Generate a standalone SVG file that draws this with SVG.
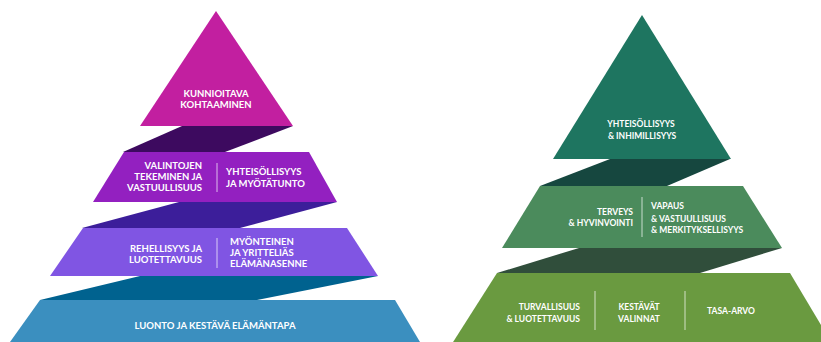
<svg xmlns="http://www.w3.org/2000/svg" width="821" height="342" viewBox="0 0 821 342">
<style>
text{font-family:Lato,"Open Sans","Liberation Sans",sans-serif;font-weight:700;fill:#fff}
.l{font-size:9.5px}
.r{font-size:8.5px}
.m{text-anchor:middle}
.e{text-anchor:end}
.div{stroke:#fff;stroke-opacity:.7;stroke-width:1}
</style>
<rect width="821" height="342" fill="#fff"/>
<g id="connectors">
<polygon points="182,126 293,126 225,152 123,152" fill="#3D0A5F"/>
<polygon points="179,202 337,202 240,228 82,228" fill="#3C1E9A"/>
<polygon points="140,276 378,276 257,300 40,300" fill="#00628F"/>
<polygon points="610,159 730,159 667,186 540,186" fill="#16473F"/>
<polygon points="579,248 782,248 700,273 497,273" fill="#304E3B"/>
</g>
<g id="l-top">
<polygon points="216,11 293,126 140,126" fill="#C21FA0"/>
<text class="l m" x="216" y="97">KUNNIOITAVA</text>
<text class="l m" x="216" y="108">KOHTAAMINEN</text>
</g>
<g id="l-tier2">
<polygon points="124,152 309,152 337,202 93,202" fill="#9320C0"/>
<text class="l e" x="202" y="169">VALINTOJEN</text>
<text class="l e" x="202" y="180">TEKEMINEN JA</text>
<text class="l e" x="202" y="191">VASTUULLISUUS</text>
<line class="div" x1="217" y1="163" x2="217" y2="192"/>
<text class="l" x="226" y="175">YHTEISÖLLISYYS</text>
<text class="l" x="226" y="187">JA MYÖTÄTUNTO</text>
</g>
<g id="l-tier3">
<polygon points="83,228 347,228 378,276 50,276" fill="#8055E3"/>
<text class="l e" x="202" y="252">REHELLISYYS JA</text>
<text class="l e" x="202" y="263">LUOTETTAVUUS</text>
<line class="div" x1="217" y1="238" x2="217" y2="268"/>
<text class="l" x="230" y="245">MYÖNTEINEN</text>
<text class="l" x="230" y="256">JA YRITTELIÄS</text>
<text class="l" x="230" y="267">ELÄMÄNASENNE</text>
</g>
<g id="l-tier4">
<polygon points="40,300 395,300 420,342 10,342" fill="#3B8FBF"/>
<text class="l m" x="215" y="329">LUONTO JA KESTÄVÄ ELÄMÄNTAPA</text>
</g>
<g id="r-top">
<polygon points="642,15 731,159 553,159" fill="#1E7560"/>
<text class="r m" x="641" y="127">YHTEISÖLLISYYS</text>
<text class="r m" x="642" y="139">&amp; INHIMILLISYYS</text>
</g>
<g id="r-tier2">
<polygon points="540,186 743,186 782,248 502,248" fill="#4B8B5C"/>
<text class="r e" x="633" y="215">TERVEYS</text>
<text class="r e" x="633" y="226">&amp; HYVINVOINTI</text>
<line class="div" x1="642" y1="197" x2="642" y2="237"/>
<text class="r" x="651" y="209">VAPAUS</text>
<text class="r" x="651" y="222">&amp; VASTUULLISUUS</text>
<text class="r" x="651" y="233">&amp; MERKITYKSELLISYYS</text>
</g>
<g id="r-tier3">
<polygon points="497,273 790,273 836,350 448,350" fill="#6A9A40"/>
<text class="r e" x="580" y="310">TURVALLISUUS</text>
<text class="r e" x="580" y="322">&amp; LUOTETTAVUUS</text>
<line class="div" x1="595" y1="291" x2="595" y2="330"/>
<text class="r m" x="639" y="310">KESTÄVÄT</text>
<text class="r m" x="639" y="322">VALINNAT</text>
<line class="div" x1="685" y1="291" x2="685" y2="330"/>
<text class="r m" x="731" y="314">TASA-ARVO</text>
</g>
</svg>
